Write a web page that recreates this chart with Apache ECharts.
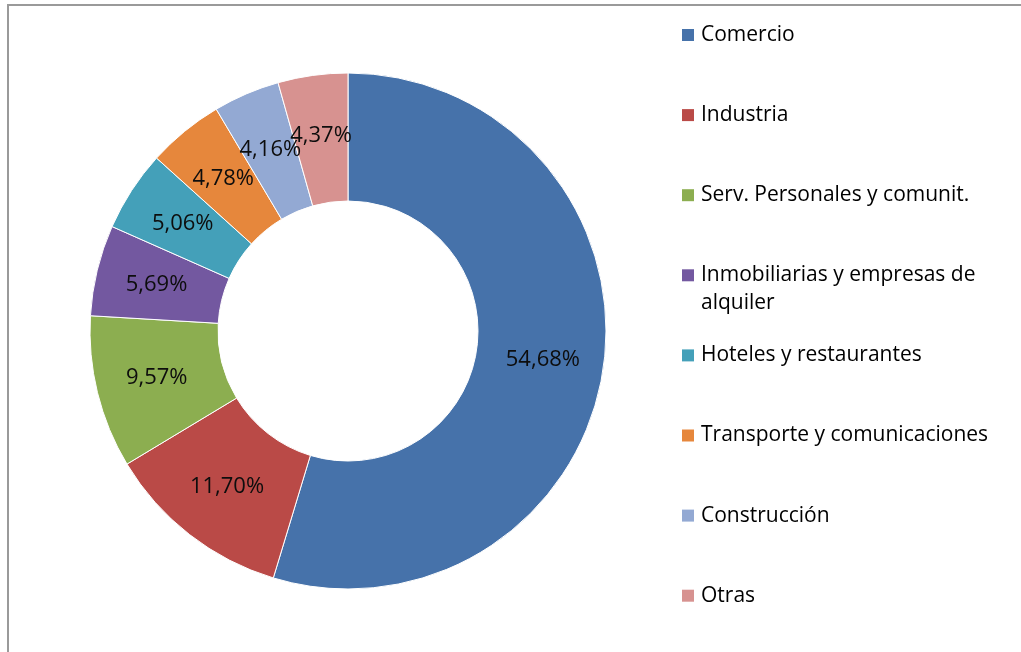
<!DOCTYPE html>
<html>
<head>
<meta charset="utf-8">
<script src="https://cdn.jsdelivr.net/npm/echarts@6/dist/echarts.min.js"></script>
<style>
  html, body { margin: 0; padding: 0; background: #fff; }
  #chart { width: 1021px; height: 652px; }
</style>
</head>
<body>
<div id="chart"></div>
<script>
// Sector names and their share of the total (%)
const sectores = [
  'Comercio',
  'Industria',
  'Serv. Personales y comunit.',
  'Inmobiliarias y empresas de alquiler',
  'Hoteles y restaurantes',
  'Transporte y comunicaciones',
  'Construcción',
  'Otras'
];
const porcentajes = [54.68, 11.70, 9.57, 5.69, 5.06, 4.78, 4.16, 4.37];
const colores = ['#4672AA', '#BA4A47', '#8CAE50', '#7358A0', '#44A0B9', '#E6873C', '#93A9D3', '#D79290'];

// Legend entries that wrap onto a second line (leading blank line keeps
// the first line level with the colour square)
const etiquetasLeyenda = {
  'Inmobiliarias y empresas de alquiler': '\nInmobiliarias y empresas de\nalquiler'
};

const FONT = '"Open Sans", "Noto Sans", sans-serif';
const LINE = 28;

const chart = echarts.init(document.getElementById('chart'), null, { renderer: 'canvas' });

// One legend block per sector, stacked down the right side
const leyendas = sectores.map(function (nombre, i) {
  const yc = 35 + 80.1 * i;
  const envuelto = etiquetasLeyenda[nombre] !== undefined;
  return {
    orient: 'vertical',
    left: 682,
    top: envuelto ? yc - LINE * 1.5 : yc - LINE / 2,
    padding: 0,
    data: [nombre],
    icon: 'rect',
    itemWidth: 12,
    itemHeight: 12,
    itemGap: 0,
    selectedMode: false,
    itemStyle: { borderWidth: 0 },
    formatter: function (n) { return etiquetasLeyenda[n] || n; },
    textStyle: {
      fontFamily: FONT,
      fontSize: 21,
      color: '#000',
      lineHeight: LINE,
      padding: [0, 0, 0, 2]
    }
  };
});

chart.setOption({
  animation: false,
  backgroundColor: '#fff',
  color: colores,
  legend: leyendas,
  graphic: [{
    type: 'rect',
    shape: { x: 8, y: 5, width: 1100, height: 800 },
    style: { fill: 'none', stroke: '#9a9a9a', lineWidth: 2 },
    silent: true,
    z: -1
  }],
  series: [{
    type: 'pie',
    center: [348, 331],
    radius: [130, 258],
    startAngle: 90,
    clockwise: true,
    avoidLabelOverlap: false,
    labelLayout: { hideOverlap: false },
    itemStyle: { borderColor: '#ffffff', borderWidth: 1 },
    label: {
      show: true,
      position: 'inside',
      fontFamily: FONT,
      fontSize: 22,
      color: '#0d0d0d',
      formatter: function (p) { return p.value.toFixed(2).replace('.', ',') + '%'; }
    },
    labelLine: { show: false },
    emphasis: { disabled: true },
    data: sectores.map(function (n, i) { return { name: n, value: porcentajes[i] }; })
  }]
});
</script>
</body>
</html>
